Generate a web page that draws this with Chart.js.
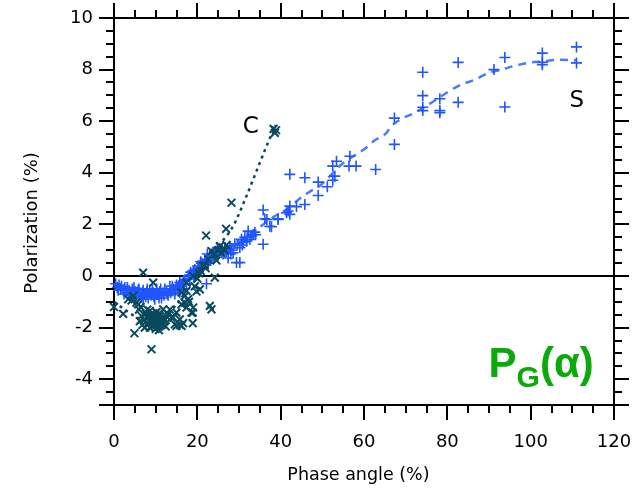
<!DOCTYPE html>
<html>
<head>
<meta charset="utf-8">
<script src="https://cdn.jsdelivr.net/npm/chart.js@4.4.1/dist/chart.umd.min.js"></script>
<style>
  html, body { margin: 0; padding: 0; background: #ffffff; }
  #wrap { width: 644px; height: 488px; position: relative; }
</style>
</head>
<body>
<div id="wrap"><canvas id="c"></canvas></div>
<script>
// ---- Data ----
const phaseS = [
  0.4,0.8,1.2,1.6,2.2,2.6,3.0,3.6,4.0,4.4,5.0,5.4,5.8,6.2,6.6,7.0,7.0,7.4,7.9,8.2,8.6,9.0,9.4,9.8,10.2,10.6,11.0,11.4,11.8,12.2,12.6,13.0,13.4,13.8,14.2,14.6,15.0,15.4,15.8,15.8,16.2,16.6,17.0,17.4,17.8,18.2,
  1.0,1.8,2.4,3.2,3.8,4.8,5.2,6.0,6.8,7.6,8.0,8.8,9.2,9.6,10.4,10.8,11.2,12.0,12.8,13.6,14.0,14.8,15.2,16.0,16.8,
  18.4,19.2,20.0,20.8,21.6,22.4,23.2,24.0,24.8,26.0,27.2,28.0,29.6,30.8,32.0,33.8,
  18.6,19.0,19.4,19.8,20.2,20.6,21.0,21.4,21.8,22.2,22.2,22.6,23.0,23.4,23.8,24.2,24.6,25.0,25.4,25.8,26.2,26.6,27.0,27.4,27.8,28.2,28.6,29.0,29.4,30.2,30.2,30.6,31.0,31.4,31.8,32.2,32.6,33.0,33.4,34.0,35.8,
  35.8,36.2,36.7,37.4,37.8,39.4,39.4,41.4,41.8,42.2,42.2,42.2,43.8,45.8,45.8,49.0,49.0,51.2,52.5,52.5,53.0,53.4,56.4,56.6,58.1,62.8,67.3,67.3,
  74.1,74.1,74.1,74.1,78.2,78.2,78.2,82.6,82.6,91.2,93.8,93.8,102.8,102.8,102.8,111.0,111.0
];
const polS = [
  -0.3,-0.45,-0.35,-0.5,-0.55,-0.45,-0.65,-0.55,-0.7,-0.5,-0.6,-0.75,-0.55,-0.65,-0.8,-0.55,-0.9,-0.7,-0.6,-0.85,-0.55,-0.75,-0.65,-0.9,-0.5,-0.7,-0.6,-0.85,-0.65,-0.5,-0.6,-0.75,-0.4,-0.55,-0.5,-0.7,-0.35,-0.5,-0.25,-0.65,-0.4,-0.2,-0.15,-0.3,0.0,-0.1,
  -0.55,-0.4,-0.7,-0.45,-0.75,-0.45,-0.85,-0.5,-0.65,-0.8,-0.5,-0.7,-0.55,-0.8,-0.65,-0.85,-0.5,-0.75,-0.7,-0.65,-0.4,-0.55,-0.45,-0.3,-0.5,
  0.15,-0.05,0.2,0.55,0.45,0.85,0.6,0.8,1.1,1.0,1.05,0.85,1.2,1.2,1.5,1.7,
  0.05,0.2,0.25,0.1,0.4,0.3,0.5,0.35,0.6,0.65,-0.3,0.5,0.75,0.85,0.7,0.95,0.95,0.8,1.05,0.9,0.85,1.1,0.95,0.7,1.15,1.0,0.9,1.25,0.52,0.52,1.1,1.42,1.3,1.5,1.35,1.74,1.42,1.55,1.61,1.6,1.23,
  2.56,2.22,2.19,1.93,1.91,2.19,2.22,2.45,2.52,2.39,2.71,3.94,2.69,2.77,3.81,3.64,3.12,3.46,3.71,4.26,3.87,4.45,4.26,4.64,4.26,4.13,6.12,5.1,
  7.9,6.99,6.54,6.41,6.87,6.41,6.33,8.28,6.73,8.0,8.47,6.55,8.64,8.28,8.19,8.88,8.26
];
const phaseC = [
  0.0,2.2,4.6,4.9,5.4,6.0,6.6,7.0,7.2,7.6,8.0,8.2,8.6,8.6,9.0,9.0,9.4,9.4,9.6,9.8,10.0,10.2,10.4,10.6,11.0,11.2,11.6,11.8,12.2,13.0,13.8,14.6,15.0,15.0,15.8,15.8,16.2,16.2,16.6,17.0,17.0,17.4,17.4,18.0,18.6,18.9,18.9,19.0,19.0,19.4,20.0,20.6,20.8,21.4,21.8,22.1,22.6,23.0,23.4,23.4,23.8,24.2,24.2,25.0,25.4,26.2,26.9,27.0,28.2,
  5.8,6.2,6.8,7.4,7.8,8.4,8.8,9.2,9.6,10.0,10.2,10.6,10.8,11.4,11.8,12.4,12.8,9.0,8.0,11.0,4.2,6.4,13.4,14.2,17.8,19.8,20.4,22.0,24.6,25.8,26.6,3.4,16.2,17.4,
  38.3,38.6,38.9
];
const polC = [
  -1.2,-1.47,-0.77,-2.22,-1.03,-1.3,-1.55,0.13,-1.7,-1.45,-1.85,-1.6,-1.35,-2.0,-1.7,-2.84,-0.26,-1.5,-1.9,-1.65,-2.05,-1.4,-1.75,-1.95,-1.55,-1.8,-1.6,-1.29,-1.7,-1.48,-1.61,-1.87,-1.42,-1.93,-1.9,-1.68,-1.1,-0.64,-1.83,-0.77,-1.03,-0.58,-0.26,-1.0,-1.42,-1.42,-1.83,0.0,-1.22,-0.4,-0.1,-0.52,0.2,0.39,0.4,1.57,0.65,-1.16,0.97,-1.29,0.84,-0.06,0.85,1.0,1.16,1.05,1.83,1.2,2.84,
  -1.1,-1.75,-1.9,-2.0,-1.6,-1.75,-1.55,-1.95,-1.6,-1.8,-1.9,-1.65,-2.1,-1.9,-1.75,-1.95,-1.6,-1.45,-1.3,-1.45,-0.95,-1.2,-1.3,-1.6,-0.9,-0.6,0.1,0.3,0.6,0.9,1.0,-0.9,-1.93,-1.22,
  5.7,5.55,5.65
];
const fitSX = [0,4,8,12,15,18,21,25,29,33.4,35.8,38.6,41.4,43.8,46.6,49.8,52.2,54.6,57.4,60.2,62.6,65.4,66.2,68.6,71.8,74.2,77.4,80.2,83.4,86.6,89.8,93,96.2,99.4,103,107,111];
const fitSY = [-0.35,-0.55,-0.62,-0.58,-0.4,-0.05,0.45,0.9,1.25,1.68,2.0,2.32,2.58,2.9,3.23,3.55,3.94,4.32,4.64,4.93,5.26,5.55,5.74,6.06,6.3,6.52,6.84,7.14,7.42,7.61,7.87,8.0,8.15,8.26,8.32,8.38,8.36];
const fitCX = [0,3,6,9,12,15,18,21,23,25.4,28.6,31.8,33.4,36.6,38.8];
const fitCY = [-1.0,-1.35,-1.65,-1.8,-1.6,-1.1,-0.4,0.35,0.8,1.23,1.94,3.1,3.74,5.03,5.85];
const zeroX = [0, 120];
const zeroY = [0, 0];
const xTicks = [0,20,40,60,80,100,120];
const yTicks = [-5,-4,-2,0,2,4,6,8,10];
const xMinorStep = 5;
const yMinorStep = 0.5;

// ---- Styling ----
const BLUE = '#1f55ff';
const BLUE_LINE = '#4a7bff';
const DARK = '#0a4a5e';
const GREEN = '#0aaa0a';
const FONT = '"DejaVu Sans", sans-serif';
const NB = '\u00a0';

const pts = (xs, ys) => xs.map((x, i) => ({x: x, y: ys[i]}));

const minorTicks = {
  id: 'minorTicks',
  afterDraw(chart) {
    const {ctx, chartArea: a, scales} = chart;
    ctx.save();
    ctx.strokeStyle = '#000';
    ctx.lineWidth = 2;
    ctx.beginPath();
    const xs = scales.x, ys = scales.y;
    for (let v = xs.min; v <= xs.max + 1e-9; v += xMinorStep) {
      if (xTicks.includes(v)) continue;
      const p = Math.round(xs.getPixelForValue(v));
      ctx.moveTo(p, a.bottom); ctx.lineTo(p, a.bottom + 8);
      ctx.moveTo(p, a.top); ctx.lineTo(p, a.top - 8);
    }
    for (let v = ys.min; v <= ys.max + 1e-9; v += yMinorStep) {
      if (yTicks.includes(v)) continue;
      const p = Math.round(ys.getPixelForValue(v));
      ctx.moveTo(a.left, p); ctx.lineTo(a.left - 8, p);
      ctx.moveTo(a.right, p); ctx.lineTo(a.right + 8, p);
    }
    ctx.stroke();
    ctx.restore();
  }
};

const labels = {
  id: 'labels',
  afterDraw(chart) {
    const {ctx, scales} = chart;
    const xs = scales.x, ys = scales.y;
    ctx.save();
    ctx.fillStyle = '#000';
    ctx.textAlign = 'center';
    ctx.textBaseline = 'middle';
    ctx.font = '23px ' + FONT;
    ctx.fillText('C', xs.getPixelForValue(32.8), ys.getPixelForValue(5.77));
    ctx.fillText('S', xs.getPixelForValue(111.1), ys.getPixelForValue(6.78));
    // P_G(alpha)
    ctx.fillStyle = GREEN;
    ctx.textAlign = 'left';
    ctx.textBaseline = 'alphabetic';
    let x = xs.getPixelForValue(89.9);
    const base = ys.getPixelForValue(-3.9);
    ctx.font = 'bold 42px "Liberation Sans", Arial, sans-serif';
    ctx.fillText('P', x, base);
    x += ctx.measureText('P').width;
    ctx.font = 'bold 30px "Liberation Sans", Arial, sans-serif';
    ctx.fillText('G', x, base + 10);
    x += ctx.measureText('G').width;
    ctx.font = 'bold 42px "Liberation Sans", Arial, sans-serif';
    ctx.fillText('(\u03b1)', x, base);
    ctx.restore();
  }
};

const axisCommon = {
  grid: { drawOnChartArea: false, drawTicks: true, tickLength: 15, color: '#000', lineWidth: 2 },
  border: { display: true, color: '#000', width: 2 }
};

new Chart(document.getElementById('c'), {
  type: 'scatter',
  data: {
    datasets: [
      { label: 'C', data: pts(phaseC, polC), pointStyle: 'crossRot', pointRadius: 5.5, borderColor: DARK, backgroundColor: DARK, pointBorderWidth: 2, showLine: false, clip: false, order: 0 },
      { label: 'S', data: pts(phaseS, polS), pointStyle: 'cross', pointRadius: 5.5, borderColor: BLUE, backgroundColor: BLUE, pointBorderWidth: 1.6, showLine: false, clip: false, order: 1 },
      { label: 'C fit', data: pts(fitCX, fitCY), showLine: true, pointRadius: 0, borderColor: DARK, borderWidth: 2.5, borderDash: [3, 4], cubicInterpolationMode: 'monotone', order: 2 },
      { label: 'S fit', data: pts(fitSX, fitSY), showLine: true, pointRadius: 0, borderColor: BLUE_LINE, borderWidth: 2.5, borderDash: [8, 6], cubicInterpolationMode: 'monotone', order: 3 },
      { label: 'zero', data: pts(zeroX, zeroY), showLine: true, pointRadius: 0, borderColor: '#000', borderWidth: 2, order: 4 }
    ]
  },
  options: {
    responsive: true,
    maintainAspectRatio: false,
    animation: false,
    layout: { padding: 0 },
    plugins: { legend: { display: false }, tooltip: { enabled: false } },
    scales: {
      x: {
        type: 'linear', position: 'bottom', min: 0, max: 120,
        afterBuildTicks: s => { s.ticks = xTicks.map(v => ({value: v})); },
        ticks: { color: '#000', font: { family: FONT, size: 18 }, padding: 12, maxRotation: 0, autoSkip: false },
        ...axisCommon,
        title: { display: true, text: 'Phase angle (%)' + NB + NB, color: '#000', font: { family: FONT, size: 17.5 }, padding: { top: 0, bottom: 2 } },
        afterFit: s => { s.height = 83; }
      },
      x2: {
        type: 'linear', position: 'top', min: 0, max: 120,
        afterBuildTicks: s => { s.ticks = xTicks.map(v => ({value: v})); },
        ticks: { display: false },
        ...axisCommon,
        afterFit: s => { s.height = 18; }
      },
      y: {
        type: 'linear', position: 'left', min: -5, max: 10,
        afterBuildTicks: s => { s.ticks = yTicks.map(v => ({value: v})); },
        ticks: { color: '#000', font: { family: FONT, size: 18 }, padding: 6, autoSkip: false,
                 callback: v => (v === -5 ? '' : String(v)) },
        ...axisCommon,
        title: { display: true, text: 'Polarization (%)' + NB + NB + NB + NB, color: '#000', font: { family: FONT, size: 18 }, padding: { top: 22, bottom: 0 } },
        afterFit: s => { s.width = 114; }
      },
      y2: {
        type: 'linear', position: 'right', min: -5, max: 10,
        afterBuildTicks: s => { s.ticks = yTicks.map(v => ({value: v})); },
        ticks: { display: false },
        ...axisCommon,
        afterFit: s => { s.width = 30; }
      }
    }
  },
  plugins: [minorTicks, labels]
});
</script>
</body>
</html>
